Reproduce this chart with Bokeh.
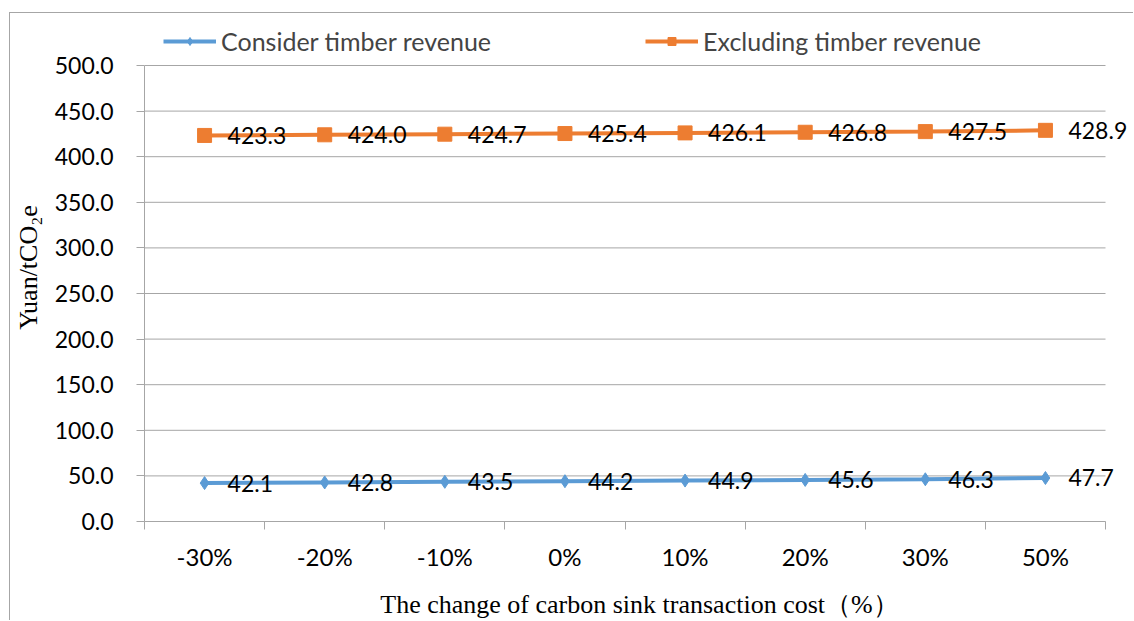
from bokeh.plotting import figure
from bokeh.models import (Range1d, FixedTicker, Legend, LegendItem, ColumnDataSource,
                          PrintfTickFormatter)
from bokeh.core.properties import value
from bokeh.embed import file_html
from bokeh.resources import INLINE

categories = ["-30%", "-20%", "-10%", "0%", "10%", "20%", "30%", "50%"]
consider = [42.1, 42.8, 43.5, 44.2, 44.9, 45.6, 46.3, 47.7]
excluding = [423.3, 424.0, 424.7, 425.4, 426.1, 426.8, 427.5, 428.9]
series_names = ["Consider timber revenue", "Excluding timber revenue"]
y_ticks = [0, 50, 100, 150, 200, 250, 300, 350, 400, 450, 500]

BLUE = "#5B9BD5"
ORANGE = "#ED7D31"
GRID = "#A6A6A6"
SANS = "Lato"
SERIF = "Liberation Serif"

N = len(categories)
Y_MAX = 500
# layout: plotting area 961 px wide x 456 px tall; frame extended to the canvas
# right/top edges so data labels and legend are not clipped.
PLOT_W, PLOT_H = 961, 456
EXTRA_RIGHT, EXTRA_TOP = 29, 52
x_end = N * (PLOT_W + EXTRA_RIGHT) / PLOT_W
y_end = Y_MAX * (PLOT_H + EXTRA_TOP) / PLOT_H

xs = [i + 0.5 for i in range(N)]
src_c = ColumnDataSource(dict(x=xs, y=consider, t=[f"{v:.1f}" for v in consider]))
src_e = ColumnDataSource(dict(x=xs, y=excluding, t=[f"{v:.1f}" for v in excluding]))
src_g = ColumnDataSource(dict(x0=[0] * len(y_ticks), x1=[N] * len(y_ticks), y=y_ticks))

W, H = 1124, 608
p = figure(width=W, height=H, output_backend="svg", toolbar_location=None,
           x_range=Range1d(0, x_end), y_range=Range1d(0, y_end),
           min_border_left=134, min_border_right=0, min_border_top=0,
           min_border_bottom=100, margin=(12, 0, 0, 9),
           styles={"border-top": "1px solid #A6A6A6", "border-left": "1px solid #A6A6A6"})
p.outline_line_color = None
p.background_fill_color = "white"
p.border_fill_color = "white"

# y axis
p.yaxis.ticker = FixedTicker(ticks=y_ticks)
p.yaxis.bounds = (0, Y_MAX)
p.yaxis.formatter = PrintfTickFormatter(format="%.1f")
p.yaxis.major_label_text_font = SANS
p.yaxis.major_label_text_font_size = "23px"
p.yaxis.major_label_text_color = "black"
p.yaxis.major_tick_out = 8
p.yaxis.major_tick_in = 0
p.yaxis.minor_tick_out = 0
p.yaxis.minor_tick_in = 0
p.yaxis.major_tick_line_color = GRID
p.yaxis.axis_line_color = GRID
p.yaxis.major_label_standoff = 23
p.yaxis.axis_label = "Yuan/tCO\u2082e"
p.yaxis.axis_label_text_font = SERIF
p.yaxis.axis_label_text_font_size = "26px"
p.yaxis.axis_label_text_font_style = "normal"
p.yaxis.axis_label_text_color = "black"
p.yaxis.axis_label_standoff = 9

# x axis: labels at centres, tick marks at boundaries
p.xaxis.ticker = FixedTicker(ticks=xs, minor_ticks=list(range(N + 1)))
p.xaxis.bounds = (0, N)
p.xaxis.major_label_overrides = {x: c for x, c in zip(xs, categories)}
p.xaxis.major_tick_out = 0
p.xaxis.major_tick_in = 0
p.xaxis.minor_tick_out = 8
p.xaxis.minor_tick_in = 0
p.xaxis.minor_tick_line_color = GRID
p.xaxis.axis_line_color = GRID
p.xaxis.major_label_text_font = SANS
p.xaxis.major_label_text_font_size = "24px"
p.xaxis.major_label_text_color = "black"
p.xaxis.major_label_standoff = 12
p.xaxis.axis_label = "The change of carbon sink transaction cost\uff08%\uff09"
p.xaxis.axis_label_text_font = SERIF
p.xaxis.axis_label_text_font_size = "26px"
p.xaxis.axis_label_text_font_style = "normal"
p.xaxis.axis_label_text_color = "black"
p.xaxis.axis_label_standoff = 16

# gridlines limited to the plotting area
p.xgrid.visible = False
p.ygrid.visible = False
p.segment(x0="x0", x1="x1", y0="y", y1="y", source=src_g, line_color=GRID, line_width=1)

# series
l1 = p.line("x", "y", source=src_c, line_color=BLUE, line_width=4)
m1 = p.scatter("x", "y", source=src_c, marker="diamond", size=13,
               fill_color=BLUE, line_color=BLUE)
l2 = p.line("x", "y", source=src_e, line_color=ORANGE, line_width=4)
m2 = p.scatter("x", "y", source=src_e, marker="square", size=14,
               fill_color=ORANGE, line_color=ORANGE)

# data labels
for src in (src_c, src_e):
    p.text("x", "y", text="t", source=src, x_offset=23, text_align="left",
           text_baseline="middle", text_font=value(SANS), text_font_size="23px",
           text_color="black")

legend = Legend(items=[LegendItem(label=series_names[0], renderers=[l1, m1]),
                       LegendItem(label=series_names[1], renderers=[l2, m2])],
                orientation="horizontal", location=(19, 465), margin=0, padding=9,
                spacing=154, glyph_width=53, glyph_height=20, label_standoff=5,
                label_text_font=SANS, label_text_font_size="25px",
                border_line_color=None, background_fill_alpha=0)
p.add_layout(legend, "center")

open("out.html", "w").write(file_html(p, INLINE))
